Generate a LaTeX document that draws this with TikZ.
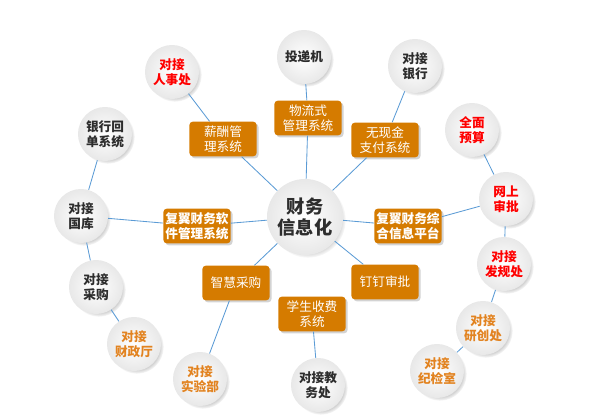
\documentclass[tikz,border=0pt]{standalone}
\usepackage{fontspec}
\setmainfont{Noto Sans CJK SC}
\usetikzlibrary{shadows}
\definecolor{boxorange}{RGB}{213,123,0}
\definecolor{linkblue}{RGB}{91,155,213}
\definecolor{txtorange}{RGB}{226,131,32}
\definecolor{txtred}{RGB}{255,0,0}
\definecolor{txtdark}{RGB}{45,45,45}
\tikzset{
  sysbox/.style={fill=boxorange, rounded corners=2.5pt, text=white, align=center,
    minimum width=1.68cm, minimum height=0.87cm, inner sep=1pt,
    font=\fontsize{9}{10.8}\selectfont,
    drop shadow={opacity=0.35, shadow xshift=1.4pt, shadow yshift=-1.4pt}},
  dock/.style={circle, minimum size=1.35cm, inner sep=0pt, align=center,
    inner color=white, outer color=gray!18, text=txtdark,
    font=\bfseries\fontsize{9}{10.8}\selectfont,
    circular drop shadow={opacity=0.35, shadow xshift=2pt, shadow yshift=-2pt, shadow scale=1.0}},
  link/.style={draw=linkblue, line width=0.6pt}
}
\begin{document}
\begin{tikzpicture}[x=0.025cm, y=-0.025cm]
  \useasboundingbox (0,0) rectangle (600,418);
  \node[dock, minimum size=1.9cm, font=\bfseries\fontsize{13}{15.5}\selectfont] (hub) at (305,217) {财务\\信息化};
  \node[sysbox] (wuliu) at (308,118) {物流式\\管理系统};
  \node[sysbox] (xinchou) at (223,139) {薪酬管\\理系统};
  \node[sysbox] (wuxian) at (385,140) {无现金\\支付系统};
  \node[sysbox, font=\bfseries\fontsize{9}{10.8}\selectfont] (ruanjian) at (197,226) {复翼财务软\\件管理系统};
  \node[sysbox, font=\bfseries\fontsize{9}{10.8}\selectfont] (zonghe) at (408,226) {复翼财务综\\合信息平台};
  \node[sysbox] (caigou) at (236,283) {智慧采购};
  \node[sysbox] (dingding) at (385,282) {钉钉审批};
  \node[sysbox] (shoufei) at (312,314) {学生收费\\系统};
  \node[dock] (toudi) at (304,57) {投递机};
  \node[dock, text=txtred] (renshi) at (172,72) {对接\\人事处};
  \node[dock] (yinhang) at (415,66) {对接\\银行};
  \node[dock] (huidan) at (105,134) {银行回\\单系统};
  \node[dock] (guoku) at (81,216) {对接\\国库};
  \node[dock] (duicai) at (96,287) {对接\\采购};
  \node[dock, text=txtorange] (caizheng) at (134,344) {对接\\财政厅};
  \node[dock, text=txtorange] (shiyan) at (200,379) {对接\\实验部};
  \node[dock] (jiaowu) at (318,385) {对接教\\务处};
  \node[dock, text=txtorange] (jijian) at (437,371) {对接\\纪检室};
  \node[dock, text=txtorange] (yanchuang) at (483,328) {对接\\研创处};
  \node[dock, text=txtred] (fagui) at (504,264) {对接\\发规处};
  \node[dock, text=txtred] (shenpi) at (506,199) {网上\\审批};
  \node[dock, text=txtred] (yusuan) at (472,130) {全面\\预算};
  \foreach \a/\b in {hub/wuliu, wuliu/toudi, hub/xinchou, xinchou/renshi, hub/wuxian, wuxian/yinhang,
    hub/ruanjian, ruanjian/guoku, hub/zonghe, zonghe/shenpi, hub/caigou, caigou/shiyan,
    hub/dingding, shoufei/jiaowu, huidan/guoku, guoku/duicai, duicai/caizheng,
    yusuan/shenpi, shenpi/fagui, fagui/yanchuang, yanchuang/jijian}
    \draw[link] (\a) -- (\b);
\end{tikzpicture}
\end{document}
